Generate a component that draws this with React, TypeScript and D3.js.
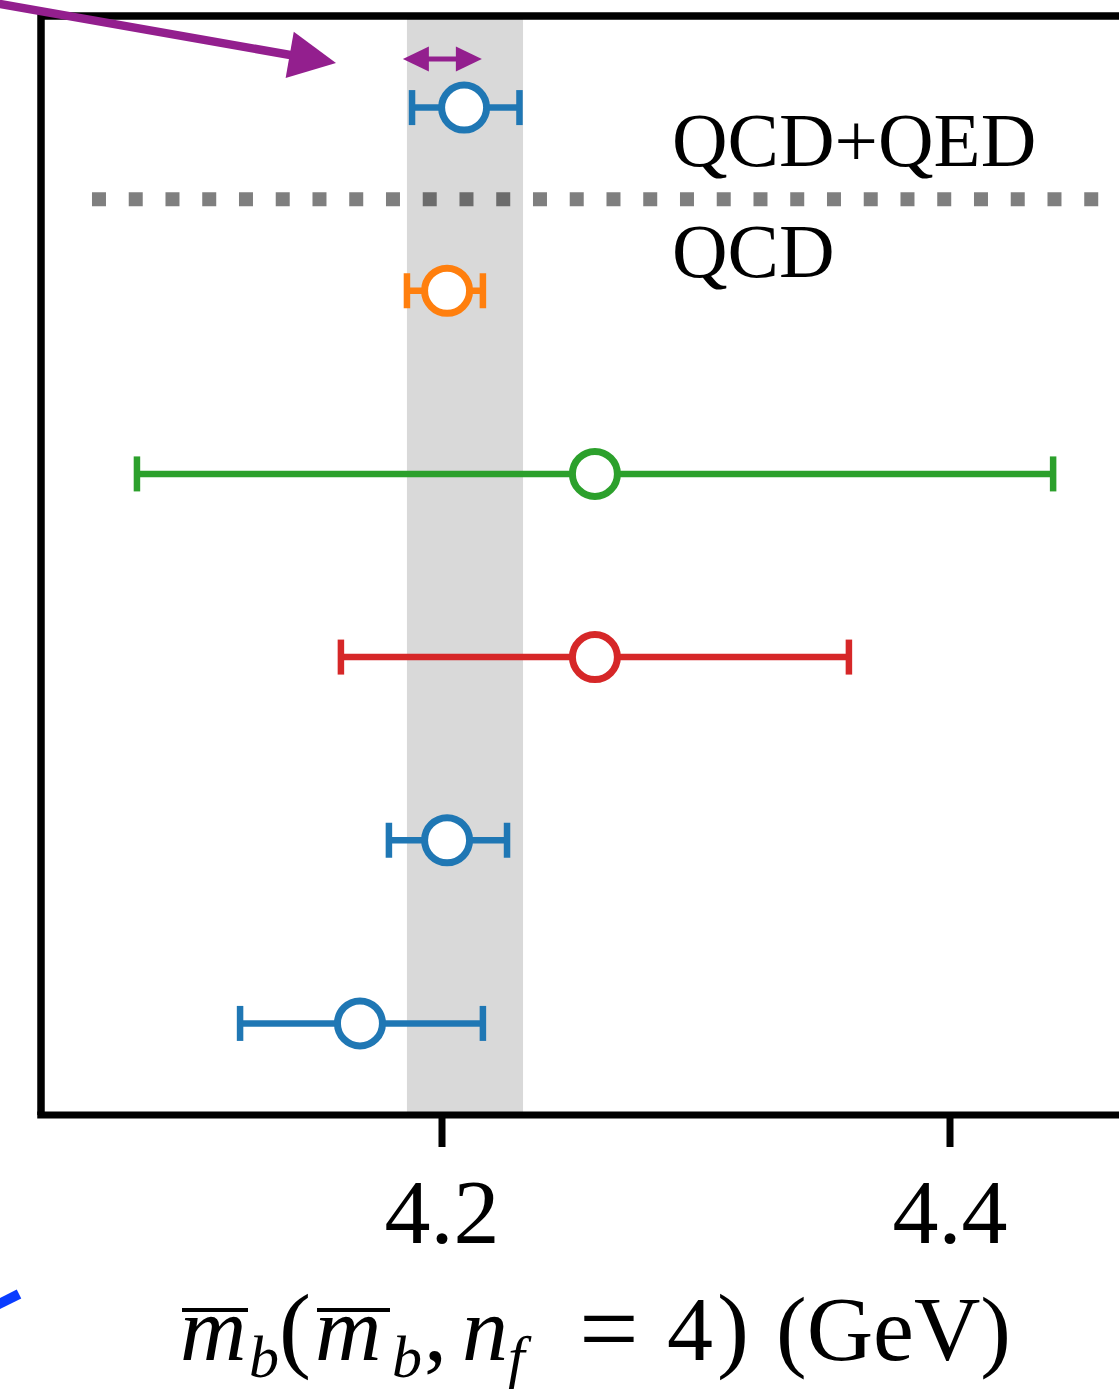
import React from "react";
import * as d3 from "d3";

// ---- data ----
const rowIndex = [0, 1, 2, 3, 4, 5]; // bottom to top
const centralValues = [4.1677, 4.202, 4.2602, 4.2602, 4.202, 4.2087];
const lowerValues = [4.1205, 4.1791, 4.1602, 4.0799, 4.1862, 4.1882];
const upperValues = [4.2161, 4.2256, 4.3602, 4.4406, 4.2161, 4.2305];
const rowColors = ["#1f77b4", "#1f77b4", "#d62728", "#2ca02c", "#ff7f0e", "#1f77b4"];
const bandRange = [4.1862, 4.2319];
const separatorRow = 4.5;
const separatorStart = 4.0622;
const xTicks = [4.2, 4.4];
const xTickLabels = ["4.2", "4.4"];
const groupLabels = ["QCD+QED", "QCD"];
const smallArrowRange = [4.1846, 4.2157];

const W = 1119;
const H = 1389;
const FONT = "'Liberation Serif', 'Times New Roman', serif";
const PURPLE = "#931f8e";

export default function App() {
  const x = d3.scaleLinear().domain([4.2, 4.4]).range([442, 950]);
  const y = d3.scaleLinear().domain([-0.5, 5.5]).range([1115, 16]);
  const left = 41;
  const top = y(5.5);
  const bottom = y(-0.5);
  const capH = 17.5;

  // big purple arrow (annotation from neighbouring panel)
  const tip: [number, number] = [336, 63];
  const ang = Math.atan2(63 - 4, 336 - 0);
  const headLen = 47;
  const headHalf = 23.5;
  const bx = tip[0] - headLen * Math.cos(ang);
  const by = tip[1] - headLen * Math.sin(ang);
  const px = -Math.sin(ang);
  const py = Math.cos(ang);
  const headPts = [
    tip,
    [bx + px * headHalf, by + py * headHalf],
    [bx - px * headHalf, by - py * headHalf],
  ].map((p) => p.join(",")).join(" ");

  // small double arrow
  const sa0 = x(smallArrowRange[0]);
  const sa1 = x(smallArrowRange[1]);
  const sy = 59;
  const sHead = 26;
  const sHalf = 12.5;

  return (
    <svg
      width={W}
      height={H}
      style={{ position: "absolute", left: 0, top: 0, background: "#fff" }}
      fontFamily={FONT}
    >
      <rect x={0} y={0} width={W} height={H} fill="#fff" />
      {/* band */}
      <rect
        x={x(bandRange[0])}
        y={top}
        width={x(bandRange[1]) - x(bandRange[0])}
        height={bottom - top}
        fill="#d9d9d9"
      />
      {/* separator */}
      <line
        x1={x(separatorStart)}
        x2={W + 20}
        y1={y(separatorRow)}
        y2={y(separatorRow)}
        stroke="#000"
        strokeOpacity={0.5}
        strokeWidth={14}
        strokeDasharray="14 22.75"
      />
      {/* error bars */}
      {rowIndex.map((r, i) => (
        <g key={r} stroke={rowColors[i]} strokeWidth={6.5}>
          <line x1={x(lowerValues[i])} x2={x(upperValues[i])} y1={y(r)} y2={y(r)} />
          <line x1={x(lowerValues[i])} x2={x(lowerValues[i])} y1={y(r) - capH} y2={y(r) + capH} />
          <line x1={x(upperValues[i])} x2={x(upperValues[i])} y1={y(r) - capH} y2={y(r) + capH} />
          <circle cx={x(centralValues[i])} cy={y(r)} r={22.5} fill="#fff" strokeWidth={7} />
        </g>
      ))}
      {/* group labels */}
      <text x={672} y={166} fontSize={77}>{groupLabels[0]}</text>
      <text x={672} y={277} fontSize={77}>{groupLabels[1]}</text>
      {/* spines */}
      <path
        d={`M${left},${bottom} L${left},${top} L${W + 10},${top}`}
        fill="none"
        stroke="#000"
        strokeWidth={7.5}
        strokeLinejoin="miter"
      />
      <line x1={left - 3.75} x2={W + 10} y1={bottom} y2={bottom} stroke="#000" strokeWidth={7} />
      {/* ticks */}
      {xTicks.map((t, i) => (
        <g key={t}>
          <line x1={x(t)} x2={x(t)} y1={bottom} y2={1147} stroke="#000" strokeWidth={7} />
          <text x={x(t)} y={1243} fontSize={92} textAnchor="middle">{xTickLabels[i]}</text>
        </g>
      ))}
      {/* x label */}
      <g fontSize={92}>
        <line x1={182} x2={248} y1={1310} y2={1310} stroke="#000" strokeWidth={4} />
        <line x1={317} x2={390} y1={1310} y2={1310} stroke="#000" strokeWidth={4} />
        <text y={1360}>
          <tspan x={180} fontStyle="italic">m</tspan>
          <tspan x={249} y={1377} fontSize={60} fontStyle="italic">b</tspan>
          <tspan x={279} y={1360} fontSize={96}>(</tspan>
          <tspan x={315} fontStyle="italic">m</tspan>
          <tspan x={392} y={1377} fontSize={60} fontStyle="italic">b</tspan>
          <tspan x={424} y={1360}>,</tspan>
          <tspan x={462} fontStyle="italic">n</tspan>
          <tspan x={508} y={1377} fontSize={60} fontStyle="italic">f</tspan>
          <tspan x={579} y={1364} fontSize={106}>=</tspan>
          <tspan x={667} y={1360}>4</tspan>
          <tspan x={717} fontSize={96}>)</tspan>
          <tspan x={776} fontSize={92}>(GeV)</tspan>
        </text>
      </g>
      {/* purple annotation arrows */}
      <line x1={-40} y1={4 - 40 * Math.tan(ang)} x2={bx + 2 * Math.cos(ang)} y2={by + 2 * Math.sin(ang)} stroke={PURPLE} strokeWidth={8.5} />
      <polygon points={headPts} fill={PURPLE} />
      <line x1={sa0 + sHead - 2} x2={sa1 - sHead + 2} y1={sy} y2={sy} stroke={PURPLE} strokeWidth={5} />
      <polygon points={`${sa0},${sy} ${sa0 + sHead},${sy - sHalf} ${sa0 + sHead},${sy + sHalf}`} fill={PURPLE} />
      <polygon points={`${sa1},${sy} ${sa1 - sHead},${sy - sHalf} ${sa1 - sHead},${sy + sHalf}`} fill={PURPLE} />
      {/* blue stroke fragment from neighbouring panel */}
      <line x1={-15} y1={1311} x2={19} y2={1294} stroke="#0a3cff" strokeWidth={10} />
    </svg>
  );
}
